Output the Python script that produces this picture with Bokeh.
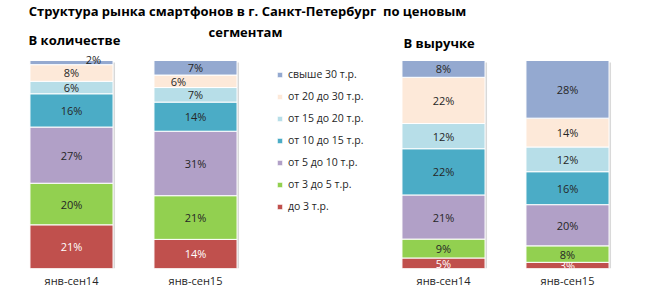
import numpy as np
from bokeh.plotting import figure
from bokeh.models import ColumnDataSource, Label, Legend, LegendItem, FixedTicker, Range1d
from bokeh.core.properties import value
from bokeh.transform import dodge
from bokeh.embed import file_html
from bokeh.resources import INLINE

# ---- data ----
periods = ["янв-сен14", "янв-сен15"]
segments = ["до 3 т.р.", "от 3 до 5 т.р.", "от 5 до 10 т.р.", "от 10 до 15 т.р.",
            "от 15 до 20 т.р.", "от 20 до 30 т.р.", "свыше 30 т.р."]
colors = ["#C0504D", "#92D050", "#B1A0C7", "#4BACC6", "#B7DEE8", "#FDE9D9", "#94A9D0"]
qty_14 = [21, 20, 27, 16, 6, 8, 2]
qty_15 = [14, 21, 31, 14, 7, 6, 7]
rev_14 = [5, 9, 21, 22, 12, 22, 8]
rev_15 = [3, 8, 20, 16, 12, 14, 28]

title_line1 = "Структура рынка смартфонов в г. Санкт-Петербург\u00a0 по ценовым"
title_line2 = "сегментам"
sub_qty = "В количестве"
sub_rev = "В выручке"

FONT = "Open Sans"

bars = [qty_14, qty_15, rev_14, rev_15]
bar_labels = periods + periods
xpos = [0, 1, 3, 4]  # two groups of two bars, a free slot between groups

keys = [f"s{i}" for i in range(len(segments))]
data = {"x": xpos, "total": [100.0] * len(bars)}
for i, k in enumerate(keys):
    data[k] = [100.0 * b[i] / sum(b) for b in bars]
src = ColumnDataSource(data)

PX_X = 124.0   # px per bar slot
PX_Y = 2.08    # px per percent

p = figure(frame_width=646, frame_height=268, min_border=0, min_border_bottom=29,
           output_backend="svg", toolbar_location=None,
           x_range=Range1d(-71 / PX_X, 575 / PX_X), y_range=Range1d(0, 268 / PX_Y))
p.outline_line_color = None
p.grid.visible = False
p.yaxis.visible = False

# soft shadow behind each bar
p.vbar(x=dodge("x", 2 / PX_X), top=dodge("total", -2 / PX_Y), bottom=-2 / PX_Y, width=0.67,
       source=src, fill_color="#D9D9D9", line_color=None)

renderers = p.vbar_stack(keys, x="x", width=0.67, source=src, color=colors,
                         line_color="white", line_width=1)

# percentage labels
lx, ly, lt, lc, lxo, lyo = [], [], [], [], [], []
for j, b in enumerate(bars):
    tot = sum(b)
    cum = 0.0
    for i, v in enumerate(b):
        h = 100.0 * v / tot
        lx.append(xpos[j])
        ly.append(cum + h / 2)
        lt.append(f"{v}%")
        lc.append("white" if i == 0 else "#262626")
        lxo.append(0)
        lyo.append(0)
        cum += h
# manual label nudges as in the original
lxo[6] = 22; lyo[6] = -3
lxo[7 + 5] = -17
lsrc = ColumnDataSource(dict(x=lx, y=ly, t=lt, c=lc, xo=lxo, yo=lyo))
p.text(x="x", y="y", text="t", source=lsrc, text_color="c", x_offset="xo", y_offset="yo",
       text_align="center", text_baseline="middle", text_font=value(FONT),
       text_font_size="11px")

# axis
p.xaxis.ticker = FixedTicker(ticks=xpos)
p.xaxis.major_label_overrides = {x: lab for x, lab in zip(xpos, bar_labels)}
p.xaxis.axis_line_color = None
p.xaxis.major_tick_line_color = None
p.xaxis.minor_tick_line_color = None
p.xaxis.major_tick_in = 0
p.xaxis.major_tick_out = 0
p.xaxis.major_label_standoff = 4
p.xaxis.major_label_text_font = FONT
p.xaxis.major_label_text_font_size = "11px"
p.xaxis.major_label_text_color = "#262626"

# legend
items = [LegendItem(label=segments[i], renderers=[renderers[i]]) for i in reversed(range(len(segments)))]
legend = Legend(items=items, location=(276, 55), padding=0, margin=0, spacing=8,
                glyph_width=7, glyph_height=7, label_height=13, label_standoff=5,
                background_fill_alpha=0, border_line_alpha=0,
                label_text_font=FONT, label_text_font_size="10.5px", label_text_color="#262626")
p.add_layout(legend)

# titles
for txt, x, y, al in [(title_line1, 247, 268 - 10, "center"), (title_line2, 245, 268 - 31, "center"),
                      (sub_qty, 28, 268 - 39, "left"), (sub_rev, 403, 268 - 42, "left")]:
    p.add_layout(Label(x=x, y=y, x_units="screen", y_units="screen", text=txt,
                       text_align=al, text_baseline="middle", text_font=FONT,
                       text_font_size="13px", text_font_style="bold", text_color="black"))

open("out.html", "w").write(file_html(p, INLINE))
